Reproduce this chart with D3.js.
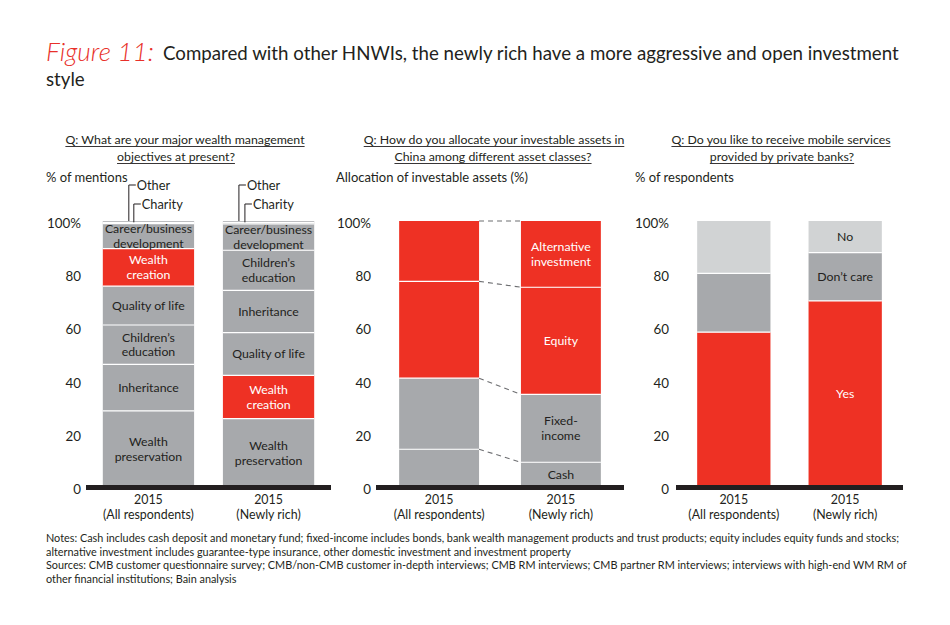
<!DOCTYPE html>
<html><head><meta charset="utf-8">
<script src="https://cdn.jsdelivr.net/npm/d3@7"></script>
<style>
body{margin:0;background:#fff}
svg{display:block}
text{font-family:Lato,"Open Sans",sans-serif;fill:#231f20}
</style>
</head><body>
<svg width="950" height="625"></svg>
<script>
// ---------- DATA ----------
const groups = ["(All respondents)", "(Newly rich)"];
const yearLabel = "2015";
const tickValues = [0, 20, 40, 60, 80, 100];
const tickLabels = ["0", "20", "40", "60", "80", "100%"];

const objAllLabels = ["Wealth preservation", "Inheritance", "Children’s education", "Quality of life", "Wealth creation", "Career/business development", "Charity", "Other"];
const objAllValues = [28.6, 17.5, 14.8, 14.6, 14.1, 9.4, 0.5, 0.5];
const objNewLabels = ["Wealth preservation", "Wealth creation", "Quality of life", "Inheritance", "Children’s education", "Career/business development", "Charity", "Other"];
const objNewValues = [25.7, 16.3, 16.0, 15.9, 15.1, 9.9, 0.6, 0.5];

const assetLabels = ["Cash", "Fixed-income", "Equity", "Alternative investment"];
const assetAllValues = [14.2, 26.7, 36.4, 22.7];
const assetNewValues = [9.3, 25.5, 40.3, 24.9];

const mobileLabels = ["Yes", "Don’t care", "No"];
const mobileAllValues = [58.2, 22.1, 19.7];
const mobileNewValues = [70.0, 18.1, 11.9];

const titlePrefix = "Figure 11:";
const titleLine1 = "Compared with other HNWIs, the newly rich have a more aggressive and open investment";
const titleLine2 = "style";
const questions = [
  ["Q:  What are your major wealth management", "objectives at present?"],
  ["Q: How do you allocate your investable assets in", "China among different asset classes?"],
  ["Q: Do you like to receive mobile services", "provided by private banks?"]
];
const axisTitles = ["% of mentions", "Allocation of investable assets (%)", "% of respondents"];
const notes = [
  "Notes: Cash includes cash deposit and monetary fund; fixed-income includes bonds, bank wealth management products and trust products; equity includes equity funds and stocks;",
  "alternative investment includes guarantee-type insurance, other domestic investment and investment property",
  "Sources: CMB customer questionnaire survey; CMB/non-CMB customer in-depth interviews; CMB RM interviews; CMB partner RM interviews; interviews with high-end WM RM of",
  "other financial institutions; Bain analysis"
];

// ---------- STYLE / LAYOUT ----------
const INK = "#231f20", RED = "#ee3124", GREY = "#a7a9ac", LIGHT = "#d1d3d4";
const labelLines = {
  "Wealth preservation": ["Wealth", "preservation"],
  "Children’s education": ["Children’s", "education"],
  "Wealth creation": ["Wealth", "creation"],
  "Career/business development": ["Career/business", "development"],
  "Alternative investment": ["Alternative", "investment"],
  "Fixed-income": ["Fixed-", "income"]
};
const colorOf = {
  "Wealth creation": RED, "Equity": RED, "Alternative investment": RED, "Yes": RED, "No": LIGHT
};

const svg = d3.select("svg");
const y = d3.scaleLinear().domain([0, 100]).range([487, 221]);

function sizeFor(str, target) {
  const t = svg.append("text").style("font-size", "20px").text(str);
  const w = t.node().getComputedTextLength();
  t.remove();
  return 20 * target / w;
}

// ---------- TITLE ----------
svg.append("text").attr("x", 46).attr("y", 61)
  .style("font-style", "italic").style("font-weight", 300).style("font-size", "25px")
  .style("fill", "#e8302a")
  .text(titlePrefix)
  .each(function(){ const w=this.getComputedTextLength(); d3.select(this).style("font-size", 25*108/w+"px"); });
const titleSize = sizeFor(titleLine1, 736);
svg.append("text").attr("x", 163).attr("y", 60).style("font-size", titleSize + "px").text(titleLine1);
svg.append("text").attr("x", 46).attr("y", 86).style("font-size", titleSize + "px").text(titleLine2);

// ---------- PANELS ----------
const panels = [
  {range: [86, 331], pi: 0.24, po: 0.14, tickX: 81, titleX: 46, qCenters: [185, 176],
   series: [{labels: objAllLabels, values: objAllValues, showLabels: true}, {labels: objNewLabels, values: objNewValues, showLabels: true}],
   bracket: [[26, 31], [16, 22]]},
  {range: [376, 624], pi: 0.344, po: 0.19, tickX: 371, titleX: 336, qCenters: [494, 493],
   series: [{labels: assetLabels, values: assetAllValues, showLabels: false}, {labels: assetLabels, values: assetNewValues, showLabels: true}],
   dashed: true},
  {range: [676, 903], pi: 0.342, po: 0.19, tickX: 669, titleX: 635, qCenters: [781, 782],
   series: [{labels: mobileLabels, values: mobileAllValues, showLabels: false}, {labels: mobileLabels, values: mobileNewValues, showLabels: true}]}
];

const qSize = sizeFor(questions[1][0], 261);
const axisTitleSize = sizeFor(axisTitles[1], 192);
const xLabSize = 12.4;
const barLabSize = 12.3;
const tickSize = sizeFor("100%", 34);

panels.forEach((p, pi) => {
  const g = svg.append("g");
  const x = d3.scaleBand().domain(groups).range(p.range).paddingInner(p.pi).paddingOuter(p.po);
  const bw = x.bandwidth();

  // question (underlined)
  questions[pi].forEach((line, li) => {
    const t = g.append("text").attr("x", p.qCenters[li]).attr("y", 144 + li * 17)
      .attr("text-anchor", "middle").style("font-size", qSize + "px").text(line);
    const w = t.node().getComputedTextLength();
    g.append("line").attr("x1", p.qCenters[li] - w / 2).attr("x2", p.qCenters[li] + w / 2)
      .attr("y1", 146.5 + li * 17).attr("y2", 146.5 + li * 17).attr("stroke", INK).attr("stroke-width", 0.9);
  });
  // axis title
  g.append("text").attr("x", p.titleX).attr("y", 182).style("font-size", axisTitleSize + "px").text(axisTitles[pi]);

  // ticks
  g.selectAll(".tick").data(tickValues).join("text")
    .attr("x", p.tickX).attr("y", d => y(d) + 7).attr("text-anchor", "end")
    .style("font-size", tickSize + "px").text((d, i) => tickLabels[i]);

  const cums = [];
  p.series.forEach((s, si) => {
    const x0 = x(groups[si]);
    let acc = 0;
    const segs = s.values.map((v, i) => { const seg = {label: s.labels[i], v0: acc, v1: acc + v}; acc += v; return seg; });
    cums.push(segs.map(d => d.v1));
    g.selectAll(null).data(segs).join("rect")
      .attr("x", x0).attr("width", bw)
      .attr("y", d => y(d.v1)).attr("height", d => y(d.v0) - y(d.v1))
      .attr("fill", d => colorOf[d.label] || GREY);
    // separators
    g.selectAll(null).data(segs.slice(0, -1)).join("line")
      .attr("x1", x0).attr("x2", x0 + bw)
      .attr("y1", d => y(d.v1)).attr("y2", d => y(d.v1))
      .attr("stroke", "#fff").attr("stroke-width", 1.2);
    if (s.showLabels) {
      segs.forEach(d => {
        if (d.label === "Charity" || d.label === "Other") return;
        const lines = labelLines[d.label] || [d.label];
        const cy = (y(d.v0) + y(d.v1)) / 2;
        const lh = 14.8;
        lines.forEach((ln, k) => {
          g.append("text").attr("text-anchor", "middle")
            .style("font-size", barLabSize + "px")
            .style("fill", (colorOf[d.label] === RED) ? "#fff" : INK)
            .attr("x", x0 + bw / 2)
            .attr("y", cy + (k - (lines.length - 1) / 2) * lh + barLabSize * 0.35).text(ln);
        });
      });
      if (p.bracket) {
        const offs = p.bracket[si];
        const items = [{label: "Other", off: offs[0], ty: 185}, {label: "Charity", off: offs[1], ty: 204}];
        items.forEach(it => {
          const seg = segs.find(d => d.label === it.label);
          const vx = x0 + it.off;
          g.append("path").attr("d", `M${vx},${y(seg.v1)}V${it.ty}H${vx + 7}`)
            .attr("fill", "none").attr("stroke", INK).attr("stroke-width", 1);
          g.append("text").attr("x", vx + 8).attr("y", it.ty + 5)
            .style("font-size", "12.8px").text(it.label);
        });
      }
    }
    // x labels
    g.append("text").attr("text-anchor", "middle").style("font-size", xLabSize + "px")
      .attr("x", x0 + bw / 2).attr("y", 503.5).text(yearLabel);
    g.append("text").attr("text-anchor", "middle").style("font-size", xLabSize + "px")
      .attr("x", x0 + bw / 2).attr("y", 518.5).text(groups[si]);
  });

  if (p.dashed) {
    const xa = x(groups[0]) + bw, xb = x(groups[1]);
    g.selectAll(null).data(d3.range(cums[0].length)).join("line")
      .attr("x1", xa).attr("x2", xb)
      .attr("y1", i => y(cums[0][i])).attr("y2", i => y(cums[1][i]))
      .attr("stroke", "#6d6e71").attr("stroke-width", 1.1).attr("stroke-dasharray", "5,4");
  }

  // baseline
  g.append("line").attr("x1", p.range[0]).attr("x2", p.range[1])
    .attr("y1", y(0) + 0.5).attr("y2", y(0) + 0.5).attr("stroke", INK).attr("stroke-width", 5);
});

// ---------- NOTES ----------
const noteT = svg.append("text").style("font-size", "10.5px").text(notes[0]);
const ratio = 853 / noteT.node().getComputedTextLength();
noteT.remove();
notes.forEach((n, i) => {
  const t = svg.append("text").attr("x", 46).attr("y", [542, 556, 569, 583][i])
    .style("font-size", "10.5px").text(n);
  const w = t.node().getComputedTextLength();
  t.attr("textLength", w * ratio).attr("lengthAdjust", "spacingAndGlyphs");
});
</script>
</body></html>
